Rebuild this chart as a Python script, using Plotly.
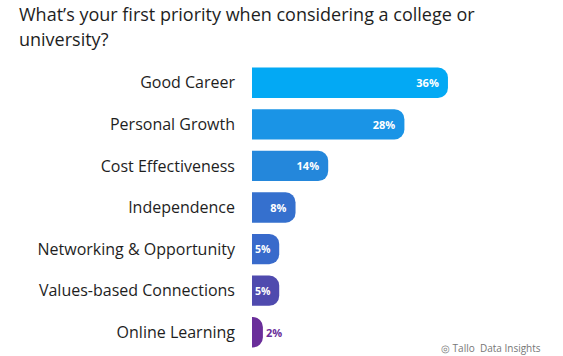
import plotly.graph_objects as go

categories = ["Good Career", "Personal Growth", "Cost Effectiveness", "Independence",
              "Networking & Opportunity", "Values-based Connections", "Online Learning"]
values = [36, 28, 14, 8, 5, 5, 2]
colors = ["#03A9F4", "#1A94E6", "#2487DB", "#3570CE", "#386ACB", "#4F4AAE", "#6A2E9A"]
title_lines = ["What’s your first priority when considering a college or", "university?"]
source_text = "◎ Tallo  Data Insights"

FONT = "'Open Sans', Lato, sans-serif"
W, H = 563, 356
L, R, T, B = 252, 10, 62, 3
PW, PH = W - L - R, H - T - B


def px_x(x):
    return (x - L) / PW


def px_y(y):
    return (H - B - y) / PH


# label sits inside the bar unless the bar is too short for it
positions = ["inside" if v >= 5 else "outside" for v in values]
text_colors = ["white" if v >= 5 else c for v, c in zip(values, colors)]

fig = go.Figure(go.Bar(
    x=values,
    y=categories,
    orientation="h",
    marker=dict(color=colors, line=dict(width=0)),
    text=[f"{v}%" for v in values],
    texttemplate="%{text}\u00a0\u00a0",
    textposition=positions,
    insidetextanchor="end",
    textangle=0,
    constraintext="none",
    cliponaxis=False,
    textfont=dict(family=FONT, size=11, color=text_colors, weight="bold"),
    hoverinfo="skip",
))

annotations = [
    dict(text=line, xref="paper", yref="paper", x=px_x(17), y=px_y(14 + 25 * i),
         xanchor="left", yanchor="middle", align="left", showarrow=False,
         font=dict(family=FONT, size=18, color="#1e1e1e"))
    for i, line in enumerate(title_lines)
]
annotations.append(dict(text=source_text, xref="paper", yref="paper",
                        x=px_x(543), y=px_y(348), xanchor="right", yanchor="middle",
                        showarrow=False, font=dict(family=FONT, size=10, color="#777777")))

fig.update_layout(
    width=W, height=H,
    margin=dict(l=L, r=R, t=T, b=B, autoexpand=False),
    paper_bgcolor="white", plot_bgcolor="white",
    barcornerradius=10,
    bargap=0.27,
    showlegend=False,
    xaxis=dict(range=[0, 55.3], visible=False, fixedrange=True, automargin=False),
    yaxis=dict(autorange="reversed", showgrid=False, zeroline=False, showline=False,
               ticks="", ticklabelstandoff=16, automargin=False, fixedrange=True,
               tickfont=dict(family=FONT, size=16, color="#1e1e1e")),
    annotations=annotations,
)

fig.write_html("out.html", config={"displayModeBar": False},
               post_script="document.body.style.margin='0';")
